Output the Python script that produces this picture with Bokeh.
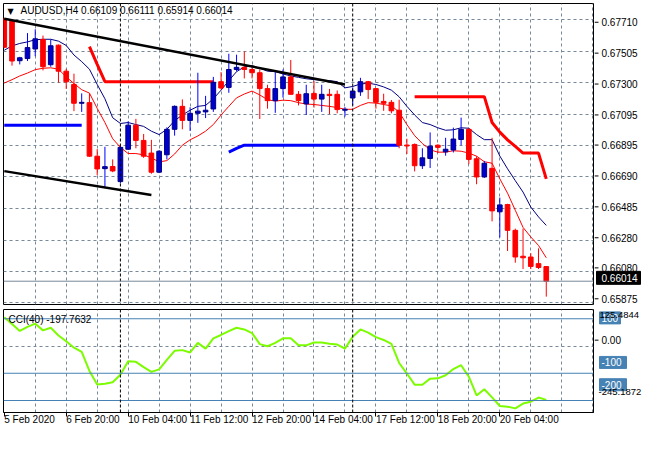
from bokeh.plotting import figure
from bokeh.models import (Range1d, FixedTicker, Grid, Span, Label,
                          ColumnDataSource)
from bokeh.layouts import column, row
from bokeh.embed import file_html
from bokeh.resources import INLINE
from bokeh.core.properties import value

# ---------------- data ----------------
symbol = "AUDUSD,H4"
bars = list(range(71))

opens = [0.67716, 0.67700, 0.67444, 0.67458, 0.67520, 0.67582, 0.67418, 0.67545, 0.67376, 0.67290,
         0.67168, 0.67172, 0.66825, 0.66744, 0.66758, 0.66660, 0.66870, 0.67026, 0.66927, 0.66845,
         0.66721, 0.66834, 0.66999, 0.67148, 0.67057, 0.67103, 0.67112, 0.67131, 0.67308, 0.67271,
         0.67387, 0.67401, 0.67387, 0.67366, 0.67263, 0.67185, 0.67263, 0.67339, 0.67226, 0.67164,
         0.67232, 0.67195, 0.67226, 0.67226, 0.67123, 0.67202, 0.67242, 0.67308, 0.67263, 0.67180,
         0.67174, 0.67123, 0.66897, 0.66901, 0.66763, 0.66810, 0.66896, 0.66853, 0.66865, 0.66933,
         0.66999, 0.66808, 0.66690, 0.66746, 0.66464, 0.66511, 0.66344, 0.66176, 0.66171, 0.66128,
         0.66109]
highs = [0.67722, 0.67713, 0.67469, 0.67623, 0.67648, 0.67607, 0.67582, 0.67549, 0.67391, 0.67360,
         0.67232, 0.67232, 0.66871, 0.66886, 0.66804, 0.66890, 0.67051, 0.67067, 0.66969, 0.66931,
         0.66865, 0.67012, 0.67154, 0.67193, 0.67142, 0.67366, 0.67216, 0.67339, 0.67370, 0.67489,
         0.67483, 0.67504, 0.67412, 0.67387, 0.67288, 0.67370, 0.67387, 0.67449, 0.67247, 0.67288,
         0.67313, 0.67288, 0.67261, 0.67251, 0.67143, 0.67271, 0.67333, 0.67313, 0.67267, 0.67230,
         0.67189, 0.67191, 0.66938, 0.66907, 0.66876, 0.66979, 0.66902, 0.66944, 0.67010, 0.67075,
         0.67006, 0.66825, 0.66794, 0.66944, 0.66556, 0.66516, 0.66355, 0.66355, 0.66196, 0.66227,
         0.66111]
lows = [0.67525, 0.67412, 0.67420, 0.67442, 0.67473, 0.67381, 0.67405, 0.67302, 0.67261, 0.67117,
        0.67112, 0.66820, 0.66701, 0.66618, 0.66721, 0.66649, 0.66865, 0.66876, 0.66814, 0.66711,
        0.66715, 0.66804, 0.66958, 0.66999, 0.66989, 0.67041, 0.67072, 0.67112, 0.67257, 0.67236,
        0.67375, 0.67329, 0.67329, 0.67066, 0.67133, 0.67106, 0.67205, 0.67225, 0.67154, 0.67092,
        0.67140, 0.67112, 0.67098, 0.67103, 0.67082, 0.67154, 0.67216, 0.67195, 0.67133, 0.67119,
        0.67103, 0.66876, 0.66839, 0.66726, 0.66742, 0.66748, 0.66845, 0.66828, 0.66849, 0.66896,
        0.66773, 0.66643, 0.66684, 0.66402, 0.66298, 0.66210, 0.66134, 0.66093, 0.66093, 0.66093,
        0.65914]
closes = [0.67531, 0.67442, 0.67463, 0.67529, 0.67586, 0.67405, 0.67541, 0.67376, 0.67307, 0.67168,
          0.67174, 0.66825, 0.66742, 0.66757, 0.66729, 0.66882, 0.67026, 0.66927, 0.66825, 0.66721,
          0.66857, 0.66999, 0.67148, 0.67057, 0.67103, 0.67117, 0.67123, 0.67304, 0.67267, 0.67387,
          0.67401, 0.67387, 0.67366, 0.67263, 0.67185, 0.67263, 0.67339, 0.67226, 0.67185, 0.67230,
          0.67195, 0.67226, 0.67218, 0.67127, 0.67129, 0.67247, 0.67308, 0.67257, 0.67174, 0.67168,
          0.67119, 0.66896, 0.66891, 0.66763, 0.66814, 0.66890, 0.66882, 0.66870, 0.66936, 0.66999,
          0.66804, 0.66690, 0.66779, 0.66470, 0.66509, 0.66344, 0.66171, 0.66166, 0.66110, 0.66103,
          0.66014]

ma_slow = [0.67512, 0.67540, 0.67556, 0.67566, 0.67580, 0.67583, 0.67583, 0.67571, 0.67543, 0.67481,
           0.67438, 0.67389, 0.67290, 0.67197, 0.67074, 0.67037, 0.67043, 0.67030, 0.67018, 0.66987,
           0.66965, 0.66999, 0.67055, 0.67092, 0.67123, 0.67148, 0.67154, 0.67197, 0.67253, 0.67315,
           0.67373, 0.67404, 0.67412, 0.67395, 0.67376, 0.67373, 0.67358, 0.67345, 0.67336, 0.67327,
           0.67321, 0.67318, 0.67315, 0.67308, 0.67268, 0.67277, 0.67293, 0.67298, 0.67290, 0.67274,
           0.67253, 0.67210, 0.67148, 0.67092, 0.67043, 0.67030, 0.67009, 0.66993, 0.66996, 0.67009,
           0.67006, 0.66965, 0.66932, 0.66932, 0.66826, 0.66743, 0.66666, 0.66592, 0.66495, 0.66431,
           0.66376]
ma_fast = [0.67299, 0.67321, 0.67345, 0.67364, 0.67386, 0.67395, 0.67398, 0.67389, 0.67339, 0.67296,
           0.67256, 0.67234, 0.67135, 0.67043, 0.66938, 0.66882, 0.66842, 0.66842, 0.66833, 0.66814,
           0.66788, 0.66796, 0.66839, 0.66896, 0.66931, 0.66956, 0.66987, 0.67030, 0.67092, 0.67148,
           0.67203, 0.67228, 0.67247, 0.67222, 0.67191, 0.67182, 0.67188, 0.67185, 0.67172, 0.67163,
           0.67160, 0.67154, 0.67148, 0.67140, 0.67129, 0.67129, 0.67154, 0.67172, 0.67169, 0.67160,
           0.67151, 0.67111, 0.67030, 0.66958, 0.66907, 0.66866, 0.66851, 0.66851, 0.66860, 0.66857,
           0.66845, 0.66825, 0.66789, 0.66779, 0.66678, 0.66585, 0.66474, 0.66363, 0.66301, 0.66246,
           0.66166]

red_stop_1_x = [11, 12, 13, 27]
red_stop_1_y = [0.67535, 0.67420, 0.67308, 0.67308]
red_stop_2_x = [53, 62, 63, 64, 65, 66, 67, 69, 70]
red_stop_2_y = [0.67211, 0.67211, 0.67043, 0.66981, 0.66931, 0.66888, 0.66845, 0.66845, 0.66678]
blue_stop_1_x = [0, 10]
blue_stop_1_y = [0.67026, 0.67026]
blue_stop_2_x = [29, 30, 31, 51]
blue_stop_2_y = [0.66851, 0.66876, 0.66896, 0.66896]

trend_upper_x = [0, 44]
trend_upper_y = [0.67716, 0.67290]
trend_lower_x = [0, 19]
trend_lower_y = [0.66728, 0.66573]

cci = [105.6, 81.0, 55.3, 70.4, 82.0, 57.4, 66.9, 38.7, 17.6, -6.0,
       -21.1, -91.5, -140.8, -138.4, -132.7, -105.6, -56.3, -58.0, -77.5, -95.0,
       -85.6, -51.0, -17.6, -15.1, -23.6, 11.6, -9.5, 28.2, 40.5, 54.6,
       66.9, 60.9, 47.5, 7.0, -1.0, 11.6, 28.2, 28.2, 2.5, 2.5,
       13.0, 13.0, 8.1, 5.3, -9.5, 34.2, 60.9, 49.3, 32.7, 22.2,
       8.1, -62.3, -101.0, -141.9, -141.9, -119.7, -118.7, -107.4, -84.5, -70.4,
       -112.7, -181.3, -158.5, -188.4, -220.0, -222.9, -228.9, -211.3, -204.2, -189.1,
       -197.7632]
cci_period = 40
cci_levels = [100, -100, -200]
cci_zero = [0]
cci_max = 125.4844
cci_min = -245.1872

tick_bars = [0, 8, 16, 24, 32, 40, 48, 56, 64]
tick_labels = ["5 Feb 2020", "6 Feb 20:00", "10 Feb 04:00", "11 Feb 12:00", "12 Feb 20:00",
               "14 Feb 04:00", "17 Feb 12:00", "18 Feb 20:00", "20 Feb 04:00"]
grid_bars = [4, 8, 12, 16, 20, 24, 28, 32, 36, 40, 44, 48, 52, 56, 60, 64, 68, 72, 76]
week_start_bars = [15, 45]
price_ticks = [0.67710, 0.67505, 0.67300, 0.67095, 0.66895, 0.66690, 0.66485, 0.66280, 0.66080, 0.65875]

# ---------------- style / layout ----------------
FONT = "Liberation Sans"
FS = "10px"
FS_SMALL = "9.5px"
GRID = "#778899"
UP_FILL = "#0000CD"
UP_LINE = "#000080"
UP_WICK = "#0000FF"
DN = "#FF0000"
LEVEL = "#4682B4"

X_START, X_END = -0.1, 76.1
x_range = Range1d(X_START, X_END)
MAIN_W, SIDE_W = 594, 50
MAIN_H, MAIN_TOP, MAIN_BOT = 308, 3, 4
CCI_H, CCI_TOP, CCI_BOT = 126, 1, 22


def extended_range(r, frame_px, top_px, bottom_px):
    per_px = (r.end - r.start) / frame_px
    return Range1d(r.start - bottom_px * per_px, r.end + top_px * per_px)


def side_figure(height, y_rng):
    s = figure(width=SIDE_W, height=height, x_range=Range1d(0, SIDE_W), y_range=y_rng,
               output_backend="svg", toolbar_location=None, x_axis_location=None,
               y_axis_location=None, min_border_left=0, min_border_right=0,
               min_border_top=0, min_border_bottom=0)
    s.outline_line_color = None
    s.grid.visible = False
    return s


# ---------------- main price panel ----------------
p = figure(width=MAIN_W, height=MAIN_H, x_range=x_range, y_range=Range1d(0.65863, 0.67815),
           output_backend="svg", toolbar_location=None, y_axis_location=None,
           x_axis_location=None, min_border_left=3, min_border_right=1,
           min_border_top=MAIN_TOP, min_border_bottom=MAIN_BOT)
p.outline_line_color = "black"
p.outline_line_alpha = 1.0
p.grid.visible = False
p.add_layout(Grid(dimension=0, ticker=FixedTicker(ticks=grid_bars), grid_line_color=GRID,
                  grid_line_dash="3 3", grid_line_width=1))
p.add_layout(Grid(dimension=1, ticker=FixedTicker(ticks=price_ticks), grid_line_color=GRID,
                  grid_line_dash="3 3", grid_line_width=1))

for b in week_start_bars:
    p.add_layout(Span(location=b, dimension="height", line_color="black",
                      line_dash="3 2", line_width=1))
p.add_layout(Span(location=closes[-1], dimension="width", line_color=GRID, line_width=1))

p.line(bars, ma_slow, line_color="#000080", line_width=1)
p.line(bars, ma_fast, line_color=DN, line_width=1)
p.line(red_stop_1_x, red_stop_1_y, line_color=DN, line_width=3)
p.line(red_stop_2_x, red_stop_2_y, line_color=DN, line_width=3)
p.line(blue_stop_1_x, blue_stop_1_y, line_color="#0000FF", line_width=3)
p.line(blue_stop_2_x, blue_stop_2_y, line_color="#0000FF", line_width=3)

up_idx = [i for i in bars if closes[i] >= opens[i]]
dn_idx = [i for i in bars if closes[i] < opens[i]]
src_up = ColumnDataSource(dict(x=[bars[i] for i in up_idx], o=[opens[i] for i in up_idx],
                               c=[closes[i] for i in up_idx], h=[highs[i] for i in up_idx],
                               l=[lows[i] for i in up_idx]))
src_dn = ColumnDataSource(dict(x=[bars[i] for i in dn_idx], o=[opens[i] for i in dn_idx],
                               c=[closes[i] for i in dn_idx], h=[highs[i] for i in dn_idx],
                               l=[lows[i] for i in dn_idx]))
p.segment(x0="x", y0="l", x1="x", y1="h", source=src_up, line_color=UP_WICK, line_width=1)
p.segment(x0="x", y0="l", x1="x", y1="h", source=src_dn, line_color=DN, line_width=1)
p.vbar(x="x", width=0.6, top="c", bottom="o", source=src_up, fill_color=UP_FILL,
       line_color=UP_LINE, line_width=1)
p.vbar(x="x", width=0.6, top="o", bottom="c", source=src_dn, fill_color=DN,
       line_color=DN, line_width=1)

p.line(trend_upper_x, trend_upper_y, line_color="black", line_width=2.5)
p.line(trend_lower_x, trend_lower_y, line_color="black", line_width=2.5)

p.add_layout(Label(x=X_START, y=p.y_range.end, x_offset=4, y_offset=-3, text="\u25BC",
                   text_font="DejaVu Sans", text_font_size="8px", text_baseline="top",
                   text_color="black"))
title_text = f"{symbol}  {opens[-1]:.5f} {highs[-1]:.5f} {lows[-1]:.5f} {closes[-1]:.5f}"
p.add_layout(Label(x=X_START, y=p.y_range.end, x_offset=17, y_offset=-1, text=title_text,
                   text_font=FONT, text_font_size=FS, text_baseline="top", text_color="black"))

# price scale (right side)
ps = side_figure(MAIN_H, extended_range(p.y_range, MAIN_H - MAIN_TOP - MAIN_BOT, MAIN_TOP, MAIN_BOT))
ps.segment(x0=0, y0=price_ticks, x1=4, y1=price_ticks, line_color="black", line_width=1)
ps.text(x=7, y=price_ticks, text=[f"{t:.5f}" for t in price_ticks], text_font=value(FONT),
        text_font_size=value(FS), text_baseline="middle", text_align="left", text_color="black")
ps.rect(x=[24], y=[closes[-1]], width=44, height=13, width_units="screen",
        height_units="screen", fill_color="black", line_color="black")
ps.text(x=7, y=[closes[-1]], text=[f"{closes[-1]:.5f}"], text_font=value(FONT),
        text_font_size=value(FS), text_baseline="middle", text_align="left", text_color="white")

# ---------------- CCI panel ----------------
q = figure(width=MAIN_W, height=CCI_H, x_range=x_range, y_range=Range1d(-244, 134),
           output_backend="svg", toolbar_location=None, y_axis_location=None,
           min_border_left=3, min_border_right=1, min_border_top=CCI_TOP,
           min_border_bottom=CCI_BOT)
q.outline_line_color = "black"
q.outline_line_alpha = 1.0
q.grid.visible = False
q.add_layout(Grid(dimension=0, ticker=FixedTicker(ticks=grid_bars), grid_line_color=GRID,
                  grid_line_dash="3 3", grid_line_width=1))
q.add_layout(Grid(dimension=1, ticker=FixedTicker(ticks=cci_zero), grid_line_color=GRID,
                  grid_line_dash="3 3", grid_line_width=1))
for lv in cci_levels:
    q.add_layout(Span(location=lv, dimension="width", line_color=LEVEL, line_width=1))
for b in week_start_bars:
    q.add_layout(Span(location=b, dimension="height", line_color="black",
                      line_dash="3 2", line_width=1))

q.line(bars, cci, line_color="#7CFC00", line_width=2)

xa = q.xaxis[0]
xa.ticker = FixedTicker(ticks=tick_bars)
xa.major_label_overrides = {b: t for b, t in zip(tick_bars, tick_labels)}
xa.major_label_orientation = -0.0001
xa.major_tick_out = 4
xa.major_tick_in = 0
xa.minor_tick_out = 0
xa.minor_tick_in = 0
xa.axis_line_color = "black"
xa.major_label_text_font = FONT
xa.major_label_text_font_size = FS
xa.major_label_text_color = "black"
xa.major_label_standoff = 3

q.add_layout(Label(x=X_START, y=q.y_range.end, x_offset=5, y_offset=-4,
                   text=f"CCI({cci_period}) {cci[-1]:.4f}", text_font=FONT,
                   text_font_size=FS, text_baseline="top", text_color="black"))

# CCI scale (right side)
qs = side_figure(CCI_H, extended_range(q.y_range, CCI_H - CCI_TOP - CCI_BOT, CCI_TOP, CCI_BOT))
qs.segment(x0=0, y0=cci_zero, x1=4, y1=cci_zero, line_color="black", line_width=1)
qs.text(x=7, y=cci_zero, text=[f"{v:.2f}" for v in cci_zero], text_font=value(FONT),
        text_font_size=value(FS), text_baseline="middle", text_align="left", text_color="black")
lvl_text = [f"{lv}" for lv in cci_levels]
lvl_w = [6 * len(t) + 3 for t in lvl_text]
qs.rect(x=[5 + w / 2 for w in lvl_w], y=cci_levels, width=lvl_w, height=12,
        width_units="screen", height_units="screen", fill_color=LEVEL, line_color=LEVEL)
qs.text(x=7, y=cci_levels, text=lvl_text, text_font=value(FONT), text_font_size=value(FS),
        text_baseline="middle", text_align="left", text_color="white")
qs.text(x=5, y=[cci_max], text=[f"{cci_max:.4f}"], text_font=value(FONT),
        text_font_size=value(FS_SMALL), text_baseline="top", text_align="left", text_color="black")
qs.text(x=4, y=[cci_min], text=[f"{cci_min:.4f}"], text_font=value(FONT),
        text_font_size=value(FS_SMALL), text_baseline="bottom", text_align="left", text_color="black")

layout = column(row(p, ps), row(q, qs))
open("out.html", "w").write(file_html(layout, INLINE))
